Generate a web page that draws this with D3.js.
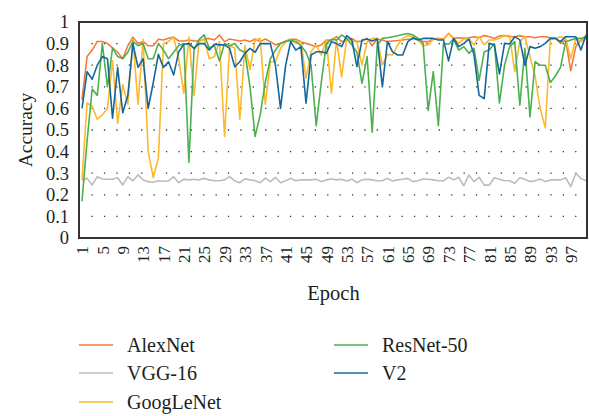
<!DOCTYPE html>
<html>
<head>
<meta charset="utf-8">
<script src="https://cdn.jsdelivr.net/npm/d3@7"></script>
<style>
  body { margin: 0; background: #fff; }
  svg { display: block; }
  text { font-family: "Liberation Serif", "DejaVu Serif", serif; fill: #231f20; }
</style>
</head>
<body>
<div id="container"></div>
<script>
/**
 * CONSTANTS AND GLOBALS
 * */
const width = 589,
  height = 416,
  margin = { top: 22, bottom: 178, left: 79, right: 1 };

// epochs are the categories on the x axis
const epochs = d3.range(1, 101);
const tickEpochs = [1, 5, 9, 13, 17, 21, 25, 29, 33, 37, 41, 45, 49, 53, 57, 61, 65, 69, 73, 77, 81, 85, 89, 93, 97];
const yTicks = [0, 0.1, 0.2, 0.3, 0.4, 0.5, 0.6, 0.7, 0.8, 0.9, 1];

const seriesNames = ["AlexNet", "VGG-16", "GoogLeNet", "ResNet-50", "V2"];

const alexNet = [0.64, 0.84, 0.87, 0.91, 0.91, 0.90, 0.88, 0.86, 0.83, 0.89,
  0.93, 0.90, 0.91, 0.89, 0.89, 0.92, 0.917, 0.925, 0.93, 0.912,
  0.912, 0.917, 0.912, 0.912, 0.921, 0.924, 0.917, 0.94, 0.909, 0.921,
  0.917, 0.912, 0.917, 0.909, 0.921, 0.909, 0.921, 0.909, 0.894, 0.901,
  0.912, 0.92, 0.92, 0.909, 0.901, 0.894, 0.886, 0.894, 0.917, 0.915,
  0.932, 0.909, 0.917, 0.924, 0.909, 0.912, 0.924, 0.89, 0.921, 0.917,
  0.909, 0.912, 0.914, 0.917, 0.92, 0.921, 0.924, 0.909, 0.909, 0.921,
  0.924, 0.921, 0.947, 0.924, 0.927, 0.924, 0.927, 0.932, 0.927, 0.937,
  0.932, 0.924, 0.935, 0.937, 0.932, 0.932, 0.937, 0.932, 0.932, 0.927,
  0.932, 0.932, 0.927, 0.924, 0.901, 0.917, 0.775, 0.886, 0.917, 0.924];

const vgg16 = [0.269, 0.276, 0.245, 0.284, 0.273, 0.272, 0.272, 0.279, 0.245, 0.284,
  0.265, 0.292, 0.269, 0.261, 0.258, 0.265, 0.263, 0.265, 0.284, 0.256,
  0.272, 0.269, 0.272, 0.269, 0.276, 0.269, 0.265, 0.265, 0.269, 0.284,
  0.264, 0.256, 0.274, 0.269, 0.265, 0.256, 0.277, 0.261, 0.281, 0.256,
  0.265, 0.276, 0.265, 0.269, 0.269, 0.269, 0.272, 0.261, 0.269, 0.273,
  0.269, 0.272, 0.264, 0.272, 0.256, 0.269, 0.272, 0.269, 0.265, 0.265,
  0.276, 0.264, 0.269, 0.272, 0.276, 0.261, 0.265, 0.273, 0.272, 0.269,
  0.265, 0.265, 0.281, 0.269, 0.281, 0.242, 0.292, 0.261, 0.281, 0.245,
  0.245, 0.279, 0.272, 0.265, 0.265, 0.253, 0.279, 0.272, 0.261, 0.265,
  0.273, 0.261, 0.269, 0.269, 0.269, 0.279, 0.238, 0.30, 0.276, 0.265];

const googLeNet = [0.27, 0.625, 0.61, 0.55, 0.57, 0.60, 0.82, 0.53, 0.71, 0.62,
  0.92, 0.62, 0.92, 0.40, 0.28, 0.37, 0.90, 0.91, 0.93, 0.83,
  0.67, 0.93, 0.66, 0.91, 0.92, 0.83, 0.84, 0.91, 0.47, 0.89,
  0.88, 0.55, 0.89, 0.78, 0.917, 0.924, 0.62, 0.816, 0.816, 0.878,
  0.909, 0.917, 0.901, 0.909, 0.74, 0.862, 0.894, 0.847, 0.917, 0.67,
  0.917, 0.747, 0.924, 0.909, 0.909, 0.80, 0.909, 0.924, 0.924, 0.80,
  0.85, 0.847, 0.894, 0.924, 0.937, 0.932, 0.917, 0.89, 0.894, 0.92,
  0.924, 0.917, 0.947, 0.924, 0.901, 0.921, 0.921, 0.894, 0.932, 0.894,
  0.917, 0.917, 0.924, 0.937, 0.937, 0.77, 0.909, 0.932, 0.84, 0.75,
  0.60, 0.51, 0.92, 0.924, 0.932, 0.924, 0.83, 0.924, 0.909, 0.932];

const resNet50 = [0.17, 0.45, 0.69, 0.66, 0.90, 0.70, 0.88, 0.84, 0.83, 0.86,
  0.91, 0.89, 0.90, 0.83, 0.83, 0.90, 0.87, 0.83, 0.86, 0.89,
  0.90, 0.35, 0.87, 0.92, 0.94, 0.88, 0.89, 0.82, 0.90, 0.89,
  0.90, 0.87, 0.86, 0.70, 0.47, 0.57, 0.72, 0.83, 0.87, 0.90,
  0.91, 0.915, 0.91, 0.89, 0.86, 0.80, 0.52, 0.72, 0.90, 0.92,
  0.916, 0.94, 0.924, 0.894, 0.86, 0.716, 0.84, 0.49, 0.894, 0.924,
  0.927, 0.932, 0.936, 0.942, 0.947, 0.94, 0.924, 0.901, 0.59, 0.77,
  0.52, 0.901, 0.897, 0.921, 0.87, 0.886, 0.855, 0.878, 0.73, 0.862,
  0.87, 0.90, 0.625, 0.80, 0.886, 0.909, 0.615, 0.878, 0.56, 0.816,
  0.80, 0.80, 0.72, 0.75, 0.79, 0.909, 0.917, 0.924, 0.924, 0.932];

const v2 = [0.60, 0.77, 0.735, 0.80, 0.84, 0.83, 0.555, 0.79, 0.58, 0.66,
  0.90, 0.79, 0.83, 0.60, 0.72, 0.85, 0.79, 0.816, 0.755, 0.862,
  0.897, 0.90, 0.878, 0.90, 0.90, 0.87, 0.897, 0.894, 0.894, 0.878,
  0.793, 0.816, 0.855, 0.878, 0.86, 0.90, 0.90, 0.90, 0.80, 0.60,
  0.80, 0.909, 0.87, 0.886, 0.624, 0.847, 0.862, 0.862, 0.855, 0.909,
  0.90, 0.886, 0.937, 0.917, 0.793, 0.917, 0.921, 0.912, 0.921, 0.70,
  0.909, 0.862, 0.847, 0.847, 0.909, 0.927, 0.917, 0.924, 0.924, 0.924,
  0.917, 0.917, 0.82, 0.924, 0.886, 0.901, 0.921, 0.85, 0.66, 0.645,
  0.901, 0.894, 0.76, 0.901, 0.898, 0.932, 0.917, 0.80, 0.886, 0.878,
  0.886, 0.901, 0.924, 0.924, 0.909, 0.932, 0.932, 0.932, 0.87, 0.94];

const colors = ["#f07d3b", "#bcbcbc", "#fdb92b", "#4cb04f", "#14679f"];

/**
 * DRAW
 * */
const series = seriesNames.map((name, i) => ({
  name,
  color: colors[i],
  values: [alexNet, vgg16, googLeNet, resNet50, v2][i]
}));

const svg = d3.select("#container")
  .append("svg")
  .attr("width", width)
  .attr("height", height);

const plotW = width - margin.left - margin.right,
  plotH = height - margin.top - margin.bottom;

const x = d3.scalePoint()
  .domain(epochs)
  .range([margin.left + 3, margin.left + plotW - 2]);

const y = d3.scaleLinear()
  .domain([0, 1])
  .range([margin.top + plotH, margin.top]);

// dotted grid lines
svg.append("g")
  .selectAll("line")
  .data(yTicks.filter(d => d > 0 && d < 1))
  .join("line")
  .attr("x1", margin.left + 12.5)
  .attr("x2", margin.left + plotW)
  .attr("y1", d => y(d))
  .attr("y2", d => y(d))
  .attr("stroke", "#333")
  .attr("stroke-width", 1.3)
  .attr("stroke-dasharray", "1.3 11.1");

// y axis
const yAxis = svg.append("g")
  .attr("transform", `translate(${margin.left},0)`)
  .call(d3.axisLeft(y).tickValues(yTicks).tickSize(0).tickPadding(10)
    .tickFormat(d => String(+d.toFixed(1))));
yAxis.select(".domain").remove();
yAxis.selectAll("text")
  .attr("font-size", 18.5)
  .attr("font-family", "Liberation Serif, serif")
  .attr("fill", "#231f20");

// x axis
const xAxis = svg.append("g")
  .attr("transform", `translate(0,${margin.top + plotH})`)
  .call(d3.axisBottom(x).tickValues(tickEpochs).tickSize(0));
xAxis.select(".domain").remove();
xAxis.selectAll("text")
  .attr("font-size", 17)
  .attr("font-family", "Liberation Serif, serif")
  .attr("fill", "#231f20")
  .attr("text-anchor", "end")
  .attr("transform", "rotate(-90)")
  .attr("x", -8)
  .attr("y", 0)
  .attr("dy", "0.34em");

// lines
const line = d3.line()
  .x((d, i) => x(epochs[i]))
  .y(d => y(d));

svg.append("g")
  .selectAll("path")
  .data(series)
  .join("path")
  .attr("d", d => line(d.values))
  .attr("fill", "none")
  .attr("stroke", d => d.color)
  .attr("stroke-width", 1.6)
  .attr("stroke-linejoin", "round");

// frame
svg.append("rect")
  .attr("x", margin.left)
  .attr("y", margin.top)
  .attr("width", plotW - 1)
  .attr("height", plotH)
  .attr("fill", "none")
  .attr("stroke", "#333")
  .attr("stroke-width", 2);

// axis titles
svg.append("text")
  .attr("x", margin.left + plotW / 2)
  .attr("y", 300)
  .attr("text-anchor", "middle")
  .attr("font-size", 20.5)
  .text("Epoch");

svg.append("text")
  .attr("transform", `translate(32,${margin.top + plotH / 2}) rotate(-90)`)
  .attr("text-anchor", "middle")
  .attr("font-size", 19.5)
  .text("Accuracy");

// legend
const legendPos = [
  { x: 79, y: 345 }, { x: 79, y: 373 }, { x: 79, y: 402 },
  { x: 334, y: 345 }, { x: 334, y: 373 }
];

const legend = svg.append("g")
  .selectAll("g")
  .data(series)
  .join("g")
  .attr("transform", (d, i) => `translate(${legendPos[i].x},${legendPos[i].y})`);

legend.append("line")
  .attr("x1", 0)
  .attr("x2", 34)
  .attr("stroke", d => d.color)
  .attr("stroke-width", 1.6);

legend.append("text")
  .attr("x", 48)
  .attr("dy", "0.33em")
  .attr("font-size", 20)
  .text(d => d.name);
</script>
</body>
</html>
